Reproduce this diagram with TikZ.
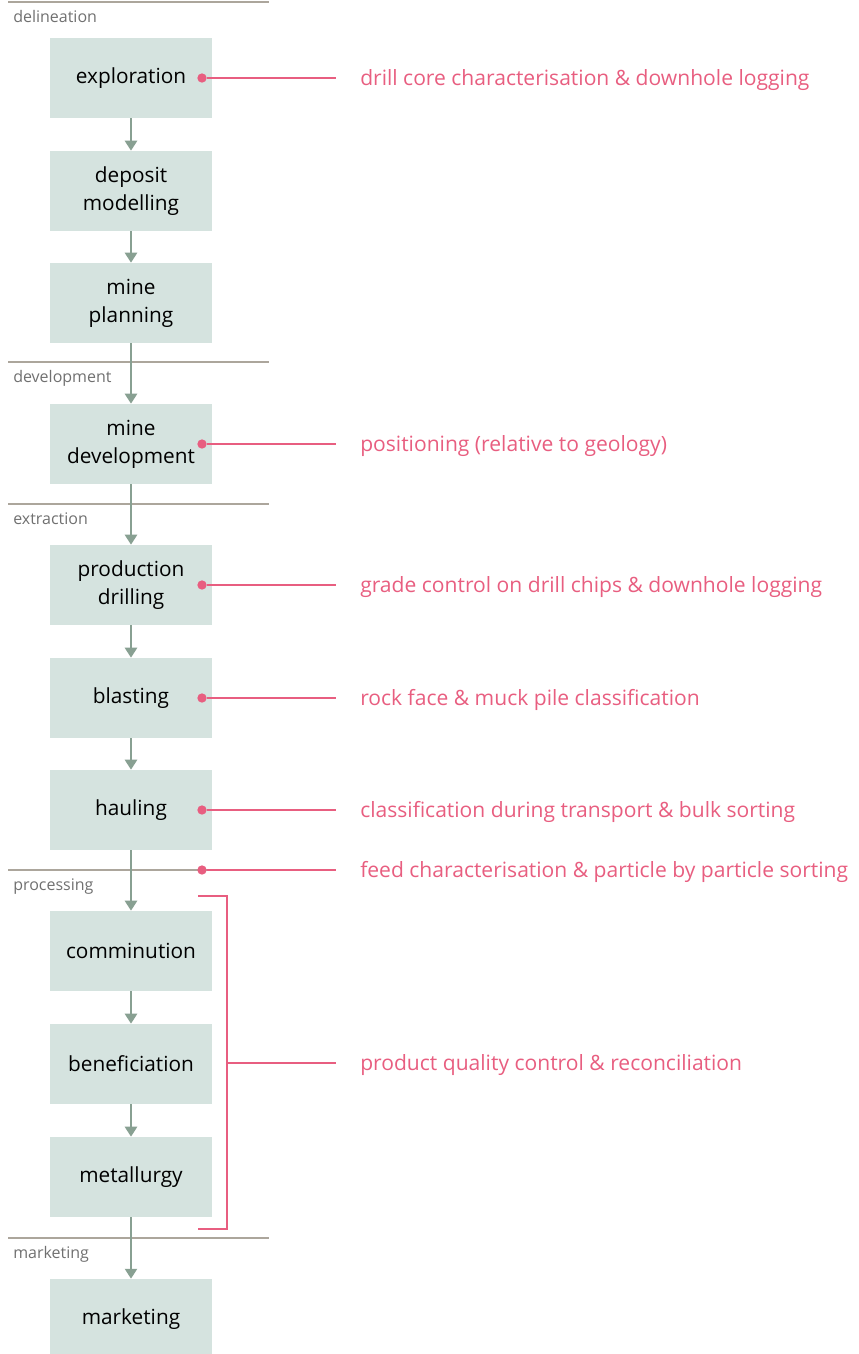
\documentclass[tikz,border=0pt]{standalone}
\usepackage{fontspec}
\setmainfont{Open Sans}
\usetikzlibrary{arrows.meta, calc}

\definecolor{boxfill}{RGB}{213,227,223}
\definecolor{flowgreen}{RGB}{136,160,146}
\definecolor{notepink}{RGB}{232,94,128}
\definecolor{rulegrey}{RGB}{172,166,156}
\definecolor{phasegrey}{RGB}{112,112,112}

\tikzset{
  stage/.style={fill=boxfill, minimum width=121.5pt, minimum height=60pt,
    align=center, inner sep=0pt, font=\fontsize{15.6}{21}\selectfont},
  flow/.style={draw=flowgreen, line width=2pt, -{Triangle[length=7.5pt,width=9pt]}},
  spot/.style={circle, fill=notepink, inner sep=0pt, minimum size=7pt},
  note/.style={anchor=base west, inner sep=0pt, text=notepink, font=\fontsize{15.8}{18}\selectfont},
  link/.style={draw=notepink, line width=2.2pt},
  phase/.style={anchor=base west, inner sep=0pt, text=phasegrey, font=\fontsize{12}{14}\selectfont},
  rule/.style={draw=rulegrey, line width=0.9pt}
}

\begin{document}
\begin{tikzpicture}[x=0.75pt, y=-0.75pt]
\useasboundingbox (0,0) rectangle (858,1354);

% Phase rules and labels
\foreach \y/\lab in {2/delineation, 362/development, 504/extraction, 870/processing, 1238/marketing} {
  \draw[rule] (8,\y) -- (269,\y);
  \node[phase] (ph-\lab) at (13,\y+20) {\lab};
}

% Stages
\foreach \name/\y/\txt in {explore/78/exploration, model/191/deposit\\modelling,
    plan/303/mine\\planning, develop/444/mine\\development, drill/585/production\\drilling,
    blast/698/blasting, haul/810/hauling, comminute/951/comminution,
    benefit/1064/beneficiation, metal/1177/metallurgy, market/1319/marketing}
  \node[stage] (\name) at (131,\y) {\txt};

% Flow arrows
\foreach \a/\b in {explore/model, model/plan, plan/develop, develop/drill, drill/blast,
    blast/haul, haul/comminute, comminute/benefit, benefit/metal, metal/market}
  \draw[flow] (\a) -- (\b);

% Sensing opportunities
\foreach \name/\txt in {explore/drill core characterisation \& downhole logging,
    develop/positioning (relative to geology),
    drill/grade control on drill chips \& downhole logging,
    blast/rock face \& muck pile classification,
    haul/classification during transport \& bulk sorting} {
  \node[spot] (\name-dot) at ($(\name.center)+(71,0)$) {};
  \node[note] (\name-note) at ($(\name.center)+(229,7)$) {\txt};
  \draw[link] (\name-dot) -- ($(\name-dot)+(134,0)$);
}

% Feed
\node[spot] (feed-dot) at (202,870) {};
\node[note] (feed-note) at (360,877) {feed characterisation \& particle by particle sorting};
\draw[link] (feed-dot) -- ($(feed-dot)+(134,0)$);

% Product bracket
\coordinate (b-top) at (198,896);
\coordinate (b-mid) at (227,1063);
\coordinate (b-bot) at (198,1229);
\coordinate (b-end) at (336,1063);
\node[note] (qc-note) at (360,1070) {product quality control \& reconciliation};
\draw[link] (b-top) -| (b-mid) |- (b-bot);
\draw[link] (b-mid) -- (b-end);

\end{tikzpicture}
\end{document}
